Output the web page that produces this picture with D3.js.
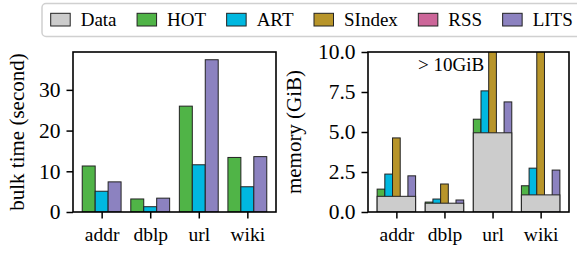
<!DOCTYPE html>
<html>
<head>
<meta charset="utf-8">
<script src="https://cdn.jsdelivr.net/npm/d3@7"></script>
<style>
  body { margin: 0; background: #fff; }
  svg { display: block; font-family: "Liberation Serif", "DejaVu Serif", serif; }
</style>
</head>
<body>
<svg id="viz" width="577" height="254"></svg>
<script>
const datasets = ["addr", "dblp", "url", "wiki"];
const series = ["Data", "HOT", "ART", "SIndex", "RSS", "LITS"];
const colors = ["#cccccc", "#50b447", "#00b8e0", "#b8952a", "#cc6699", "#8c82c0"];

// bulk load time (seconds)
const timeSeries = ["HOT", "ART", "LITS"];
const timeHOT  = [11.3, 3.2, 26.0, 13.4];
const timeART  = [5.1, 1.3, 11.6, 6.2];
const timeLITS = [7.4, 3.4, 37.4, 13.6];
const timeTicks = [0, 10, 20, 30];

// memory (GiB)
const memSeries = ["HOT", "ART", "SIndex", "RSS", "LITS"];
const memData   = [0.98, 0.55, 4.95, 1.07];
const memHOT    = [1.43, 0.62, 5.80, 1.64];
const memART    = [2.37, 0.81, 7.57, 2.74];
const memSIndex = [4.63, 1.75, 14.2, 12.6];
const memRSS    = [0, 0, 0, 0];
const memLITS   = [2.26, 0.75, 6.88, 2.62];
const memTicks  = [0, 2.5, 5, 7.5, 10];

const FONT = '"Liberation Serif", "DejaVu Serif", serif';
const colorOf = d3.scaleOrdinal().domain(series).range(colors);
const svg = d3.select("#viz");

// legend
const legend = svg.append("g");
legend.append("rect")
  .attr("x", 42).attr("y", 3.5).attr("width", 560).attr("height", 33)
  .attr("rx", 4).attr("fill", "#fff").attr("stroke", "#d0d0d0").attr("stroke-width", 1.5);
let lx = 50.7;
series.forEach(s => {
  legend.append("rect")
    .attr("x", lx).attr("y", 13.3).attr("width", 19.5).attr("height", 12.7)
    .attr("fill", colorOf(s)).attr("stroke", "#222").attr("stroke-width", 1);
  const t = legend.append("text")
    .attr("x", lx + 30).attr("y", 26).attr("font-size", 19).text(s);
  lx += 30 + t.node().getComputedTextLength() + 20.5;
});

function styleAxis(size) {
  return a => {
    a.attr("font-family", FONT);
    a.select(".domain").remove();
    a.selectAll(".tick line").attr("stroke-width", 1.5);
    a.selectAll(".tick text")
      .style("font-family", FONT).style("font-size", size + "px").attr("fill", "#000");
  };
}

function panel(x0, x1, yMax, ticks, fmt, label, labelX) {
  const top = 52, bottom = 212;
  const x = d3.scaleLinear().domain([-0.59, 3.59]).range([x0, x1]);
  const y = d3.scaleLinear().domain([0, yMax]).range([bottom, top]);
  const g = svg.append("g");
  const id = "clip" + Math.round(x0);
  svg.append("clipPath").attr("id", id).append("rect")
    .attr("x", x0).attr("y", top).attr("width", x1 - x0).attr("height", bottom - top);
  const bars = g.append("g").attr("clip-path", `url(#${id})`);

  g.append("g").attr("transform", `translate(${x0},0)`)
    .call(d3.axisLeft(y).tickValues(ticks).tickFormat(fmt).tickSize(6.5).tickPadding(6))
    .call(styleAxis(21.5));
  g.append("g").attr("transform", `translate(0,${bottom})`)
    .call(d3.axisBottom(x).tickValues([0, 1, 2, 3]).tickFormat(i => datasets[i]).tickSize(6.5).tickPadding(9))
    .call(styleAxis(19.5));

  g.append("text")
    .attr("transform", `translate(${labelX},${(top + bottom) / 2}) rotate(-90)`)
    .attr("text-anchor", "middle").attr("font-size", 21).text(label);

  const frame = () => g.append("rect")
    .attr("x", x0).attr("y", top).attr("width", x1 - x0).attr("height", bottom - top)
    .attr("fill", "none").attr("stroke", "#000").attr("stroke-width", 1.6);
  return { x, y, bars, frame };
}

// left: bulk time
const left = panel(73, 276, 39.3, timeTicks, d3.format("d"), "bulk time (second)", 24);
const timeVals = [timeHOT, timeART, timeLITS];
const bwL = 0.8 / timeSeries.length;
timeSeries.forEach((s, j) => {
  left.bars.selectAll(null).data(timeVals[j]).join("rect")
    .attr("x", (d, i) => left.x(i - 0.4 + j * bwL))
    .attr("width", left.x(bwL) - left.x(0))
    .attr("y", d => left.y(d))
    .attr("height", d => left.y(0) - left.y(d))
    .attr("fill", colorOf(s)).attr("stroke", "#222").attr("stroke-width", 1);
});
left.frame();

// right: memory
const right = panel(368, 569, 10, memTicks, d3.format(".1f"), "memory (GiB)", 301);
const memVals = [memHOT, memART, memSIndex, memRSS, memLITS];
const bwR = 0.8 / memSeries.length;
memSeries.forEach((s, j) => {
  right.bars.selectAll(null).data(memVals[j].filter(d => d > 0).length ? memVals[j] : []).join("rect")
    .attr("x", (d, i) => right.x(i - 0.4 + j * bwR))
    .attr("width", right.x(bwR) - right.x(0))
    .attr("y", d => right.y(d))
    .attr("height", d => right.y(0) - right.y(d))
    .attr("fill", colorOf(s)).attr("stroke", "#222").attr("stroke-width", 1);
});
right.bars.selectAll(null).data(memData).join("rect")
  .attr("x", (d, i) => right.x(i - 0.4))
  .attr("width", right.x(0.8) - right.x(0))
  .attr("y", d => right.y(d))
  .attr("height", d => right.y(0) - right.y(d))
  .attr("fill", colorOf("Data")).attr("stroke", "#222").attr("stroke-width", 1);
right.frame();
svg.append("text")
  .attr("x", right.x(0.45)).attr("y", 71).attr("font-size", 19).text("> 10GiB");
</script>
</body>
</html>
